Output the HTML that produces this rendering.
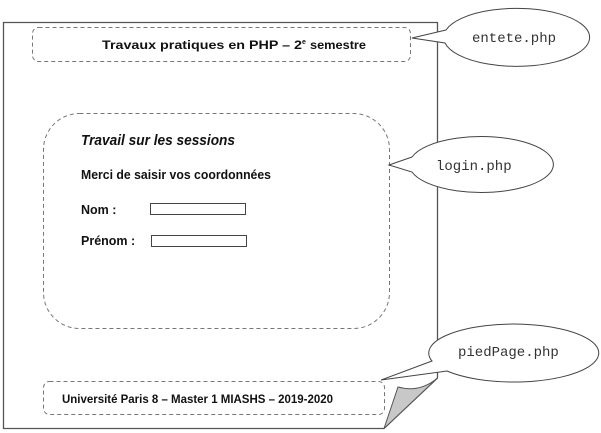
<!DOCTYPE html>
<html><head><meta charset="utf-8"><style>
html,body{margin:0;padding:0;background:#fff;width:601px;height:433px;overflow:hidden}
</style></head><body>
<svg width="601" height="433" viewBox="0 0 601 433" xmlns="http://www.w3.org/2000/svg">
<path d="M3.5 22.5 H437.5 V378 L384 428.5 H3.5 Z" fill="#fff" stroke="#555" stroke-width="1.3"/>
<path d="M384 428.5 L398 387 Q420 393 437.5 378 Z" fill="#c8c8c8" stroke="#555" stroke-width="1"/>
<g fill="none" stroke="#777" stroke-width="1" stroke-dasharray="4,3">
<rect x="32.5" y="27.5" width="378" height="34" rx="6"/>
<rect x="43.5" y="113.5" width="346" height="215" rx="36"/>
<rect x="43.5" y="381.5" width="341" height="33" rx="6"/>
</g>
<g fill="#fff" stroke="#444" stroke-width="1">
<path d="M446 30 L412 38 L445 43 A73 29 0 1 0 446 30 Z"/>
<path d="M412 157 L389 165 L412 172 A72 28 0 1 0 412 157 Z"/>
<path d="M432 361 L381 380 L447 371 A85 29 0 1 0 432 361 Z"/>
</g>
<g font-family="Liberation Mono, monospace" font-size="14" fill="#333">
<text x="472" y="42">entete.php</text>
<text x="436" y="170">login.php</text>
<text x="458" y="356">piedPage.php</text>
</g>
<g font-family="Liberation Sans, sans-serif" font-weight="bold" fill="#111">
<text x="102" y="49" font-size="12" textLength="200" lengthAdjust="spacingAndGlyphs">Travaux pratiques en PHP – 2</text>
<text x="302" y="44" font-size="7">e</text>
<text x="310" y="49" font-size="12" textLength="56" lengthAdjust="spacingAndGlyphs">semestre</text>
<text x="81" y="145" font-size="15" font-style="italic" textLength="154" lengthAdjust="spacingAndGlyphs">Travail sur les sessions</text>
<text x="81" y="179" font-size="12.5" textLength="190" lengthAdjust="spacingAndGlyphs">Merci de saisir vos coordonnées</text>
<text x="81" y="214" font-size="12.5">Nom :</text>
<text x="81" y="245" font-size="12.5">Prénom :</text>
<text x="62" y="403" font-size="12" textLength="271" lengthAdjust="spacingAndGlyphs">Université Paris 8 – Master 1 MIASHS – 2019-2020</text>
</g>
<g fill="#fff" stroke="#444" stroke-width="1">
<rect x="150.5" y="203.5" width="95" height="11"/>
<rect x="151.5" y="235.5" width="95" height="11"/>
</g>
</svg>
</body></html>
